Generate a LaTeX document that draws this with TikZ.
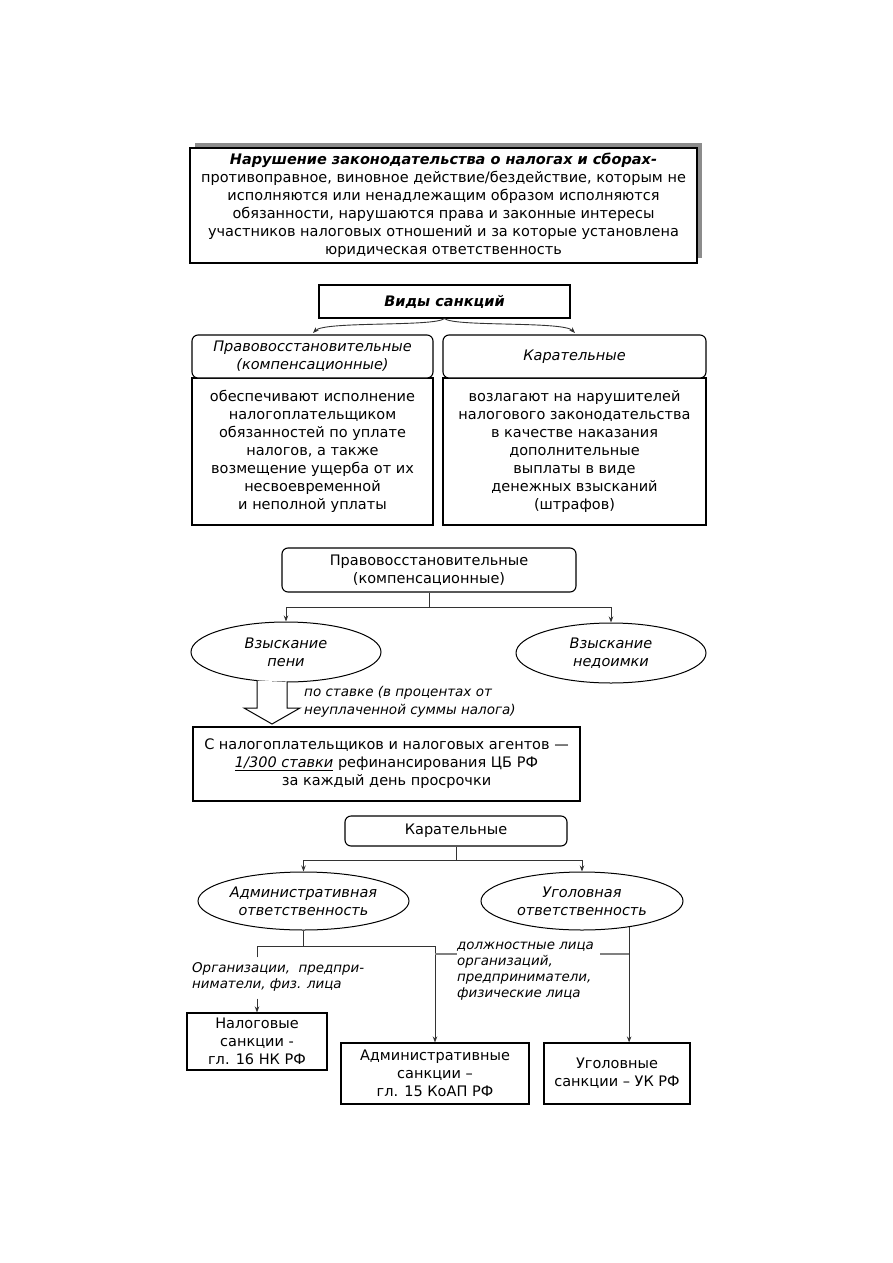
\documentclass[tikz,border=0pt]{standalone}
\usepackage{fontspec}
\setmainfont{DejaVu Sans}
\usepackage{tikz}
\usetikzlibrary{arrows.meta, positioning, shapes.geometric, shadows}
\newcommand{\mainfs}{\fontsize{14.5}{18}\selectfont}
\newcommand{\notefs}{\fontsize{13.4}{16}\selectfont}

\begin{document}
\begin{tikzpicture}[x=1pt, y=-1pt,
    box/.style={draw, line width=1.1pt, align=center, inner sep=0pt, font=\mainfs},
    rbox/.style={box, rounded corners=6pt, fill=white},
    oval/.style={draw, ellipse, line width=1pt, align=center, inner sep=0pt, font=\mainfs\itshape},
    note/.style={align=left, inner sep=0pt, font=\notefs\itshape},
    conn/.style={draw=black!80, line width=0.9pt},
    arrow/.style={conn, -{Stealth[length=6pt, width=4.5pt]}},
    tie/.style={draw=black!50, line width=1.4pt}
]
\useasboundingbox (0,0) rectangle (893,1263);

% Definition
\node[box, fill=white, minimum width=507, minimum height=115,
      general shadow={fill=black!45, shadow xshift=5pt, shadow yshift=5pt}] (viol) at (443.5,205.5)
  {\textbf{\textit{Нарушение законодательства о налогах и сборах-}}\\
   противоправное, виновное действие/бездействие, которым не\\
   исполняются или ненадлежащим образом исполняются\\
   обязанности, нарушаются права и законные интересы\\
   участников налоговых отношений и за которые установлена\\
   юридическая ответственность};

% Kinds of sanctions
\node[box, minimum width=251, minimum height=33] (kinds) at (444.5,301.5) {\textbf{\textit{Виды санкций}}};

\node[box, minimum width=241, minimum height=147] (compbody) at (312.5,451.5)
  {обеспечивают исполнение\\налогоплательщиком\\обязанностей по уплате\\налогов, а также\\возмещение ущерба от их\\несвоевременной\\и неполной уплаты};
\node[rbox, minimum width=241, minimum height=43, font=\mainfs\itshape] (comphead) at (312.5,356.5)
  {Правовосстановительные\\(компенсационные)};

\node[box, minimum width=263, minimum height=147] (punbody) at (574.5,451.5)
  {возлагают на нарушителей\\налогового законодательства\\в качестве наказания\\дополнительные\\выплаты в виде\\денежных взысканий\\(штрафов)};
\node[rbox, minimum width=263, minimum height=43, font=\mainfs\itshape] (punhead) at (574.5,356.5) {Карательные};

\coordinate (compin) at (313,333);
\coordinate (punin) at (575,333);
\draw[arrow] (kinds.south) .. controls (434,327) and (325,321) .. (compin);
\draw[arrow] (kinds.south) .. controls (454,327) and (563,321) .. (punin);

% Compensatory
\node[rbox, minimum width=294, minimum height=44] (comp) at (429,570)
  {Правовосстановительные\\(компенсационные)};
\node[oval, minimum width=190, minimum height=60] (peni) at (286,652) {Взыскание\\пени};
\node[oval, minimum width=190, minimum height=60] (nedo) at (611,653) {Взыскание\\недоимки};
\draw[arrow] (comp.south) -- ++(0,15) -| (peni.north);
\draw[arrow] (comp.south) -- ++(0,15) -| (nedo.north);

\node[box, minimum width=387, minimum height=74] (rate) at (386.5,764)
  {С налогоплательщиков и налоговых агентов —\\
   \underline{\textit{1/300 ставки}} рефинансирования ЦБ РФ\\
   за каждый день просрочки};
\draw[line width=1pt, fill=white] (257,680.5) -- (257,708) -- (244,708) -- (272,724)
  -- (300,708) -- (287,708) -- (287,682);
\node[note, anchor=west, font=\fontsize{13.5}{18}\selectfont\itshape] (ratenote) at (304,702)
  {по ставке (в процентах от\\неуплаченной суммы налога)};

% Punitive
\node[rbox, minimum width=222, minimum height=30] (pun) at (456,831) {Карательные};
\node[oval, minimum width=211, minimum height=58] (adm) at (303.5,901) {Административная\\ответственность};
\node[oval, minimum width=202, minimum height=58] (crim) at (582,901) {Уголовная\\ответственность};
\draw[arrow] (pun.south) -- ++(0,14) -| (adm.north);
\draw[arrow] (pun.south) -- ++(0,14) -| (crim.north);

\node[box, minimum width=140, minimum height=57] (taxbox) at (257,1041.5) {Налоговые\\санкции -\\гл. 16 НК РФ};
\node[box, minimum width=188, minimum height=61] (admbox) at (435,1073.5) {Административные\\санкции –\\гл. 15 КоАП РФ};
\node[box, minimum width=146, minimum height=61] (crimbox) at (617,1073.5) {Уголовные\\санкции – УК РФ};

\node[note, anchor=west] (orgs) at (192,977) {Организации,\ \ предпри-\\ниматели, физ. лица};
\node[note, anchor=north west] (offi) at (457,942) {должностные лица\\организаций,\\предприниматели,\\физические лица};

\coordinate (admfork) at (303.5,946);
\coordinate (offtie) at (600,954);
\draw[conn] (adm.south) -- (admfork);
\draw[conn] (taxbox.north |- orgs.north) ++(0,-5) |- (admfork) -- (admfork -| admbox.north);
\draw[arrow] (admfork -| admbox.north) -- (admbox.north);
\draw[arrow] (taxbox.north |- orgs.south) ++(0,7) -- (taxbox.north);
\draw[arrow] (crim.-29.3) -- (crim.-29.3 |- crimbox.north);
\draw[tie] (admbox.north |- offtie) -- (offi.west |- offtie);
\draw[tie] (offtie) -- (crim.-29.3 |- offtie);
\end{tikzpicture}
\end{document}
